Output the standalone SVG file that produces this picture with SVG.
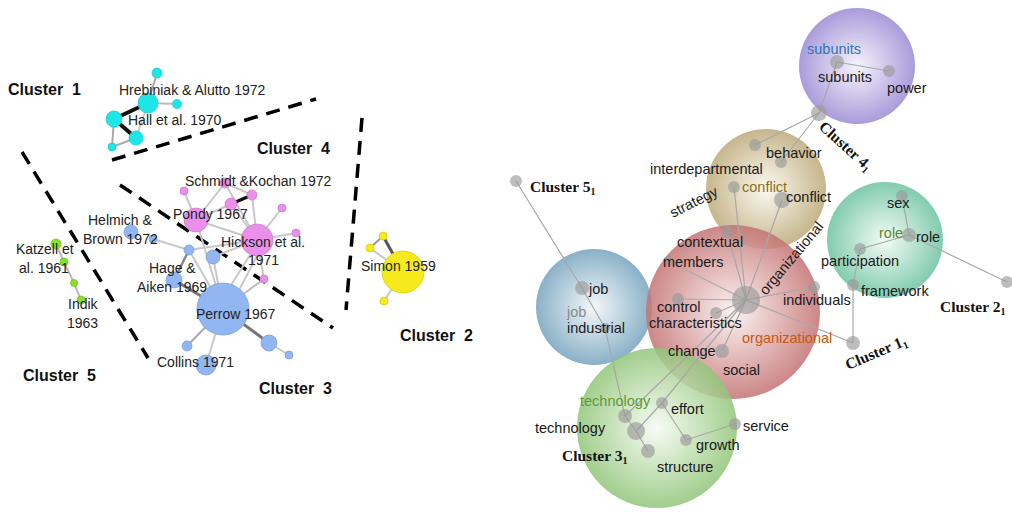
<svg xmlns="http://www.w3.org/2000/svg" width="1012" height="512" viewBox="0 0 1012 512">
<style>
.lt{font-family:"Liberation Sans",Arial,sans-serif;font-size:14px;fill:#222}
.rt{font-family:"Liberation Sans",Arial,sans-serif;font-size:14.5px;fill:#1a1a1a}
.cl{font-family:"Liberation Sans",Arial,sans-serif;font-size:16px;font-weight:bold;fill:#111;white-space:pre}
.cs{font-family:"Liberation Serif","Times New Roman",serif;font-size:15.5px;font-weight:bold;fill:#111}
.dash{stroke:#000;stroke-width:3.5;stroke-dasharray:14 9;fill:none}
.e1{stroke:#c8c8c8;stroke-width:2;fill:none}
.e2{stroke:#777;stroke-width:3;fill:none}
.e3{stroke:#111;stroke-width:4;fill:none}
.re{stroke:#a8a8a8;stroke-width:1.2;fill:none}
.cy{fill:#1fe6e6;stroke:#1ccccc;stroke-width:0.8}
.pk{fill:#ea90ea;stroke:#cf78cf;stroke-width:0.8}
.bl{fill:#92b6f2;stroke:#7c9fd8;stroke-width:0.8}
.gr{fill:#86e22a;stroke:#6cc41c;stroke-width:0.8}
.yl{fill:#f6ea1c;stroke:#d8cc10;stroke-width:0.8}
.gn{fill:#9a9a9a;fill-opacity:0.65}
</style>
<defs>
<radialGradient id="gPur"><stop offset="0" stop-color="#f4f2fb"/><stop offset="1" stop-color="#9a8ad4"/></radialGradient>
<radialGradient id="gTan"><stop offset="0" stop-color="#fbf8ef"/><stop offset="1" stop-color="#bba978"/></radialGradient>
<radialGradient id="gRole"><stop offset="0" stop-color="#f2faf6"/><stop offset="1" stop-color="#6cc3a0"/></radialGradient>
<radialGradient id="gRed"><stop offset="0" stop-color="#fbf0f0"/><stop offset="1" stop-color="#c47272"/></radialGradient>
<radialGradient id="gBlue"><stop offset="0" stop-color="#f1f6f9"/><stop offset="1" stop-color="#75a3bd"/></radialGradient>
<radialGradient id="gGrn"><stop offset="0" stop-color="#f6fbf2"/><stop offset="1" stop-color="#90c578"/></radialGradient>
</defs>
<rect width="1012" height="512" fill="#fff"/>

<g id="separators">
<line class="dash" x1="112" y1="160" x2="316" y2="99"/>
<line class="dash" x1="22" y1="152" x2="148" y2="358"/>
<line class="dash" x1="120" y1="185" x2="333" y2="328"/>
<line class="dash" x1="362" y1="118" x2="346" y2="310"/>
</g>

<g id="left-connectors">
<line class="e1" x1="148" y1="103" x2="157" y2="73" style="stroke:#aaa"/>
<line class="e1" x1="148" y1="103" x2="177" y2="104" style="stroke:#bbb"/>
<line class="e1" x1="148" y1="103" x2="136" y2="138"/>
<line class="e3" x1="148" y1="103" x2="114" y2="119"/>
<line class="e3" x1="114" y1="119" x2="136" y2="138"/>
<line class="e1" x1="114" y1="119" x2="112" y2="147" style="stroke:#aaa"/>
<line class="e1" x1="112" y1="147" x2="136" y2="138" style="stroke:#aaa"/>

<line class="e2" x1="223" y1="309" x2="174" y2="280"/>
<line class="e2" x1="223" y1="309" x2="269" y2="343"/>
<line class="e1" x1="269" y1="343" x2="289" y2="355"/>
<line class="e1" x1="223" y1="309" x2="187" y2="346" style="stroke:#aaa"/>
<line class="e1" x1="223" y1="309" x2="206" y2="365"/>
<line class="e1" x1="223" y1="309" x2="213" y2="257"/>
<line class="e1" x1="228" y1="290" x2="250" y2="255"/>
<line class="e1" x1="238" y1="292" x2="257" y2="256"/>
<line class="e1" x1="223" y1="309" x2="264" y2="279" style="stroke:#bbb"/>
<line class="e1" x1="223" y1="309" x2="196" y2="220"/>
<line class="e1" x1="223" y1="309" x2="189" y2="250"/>
<line class="e1" x1="174" y1="280" x2="189" y2="250" style="stroke:#888;stroke-width:2.5"/>
<line class="e1" x1="153" y1="239" x2="189" y2="250"/>
<line class="e1" x1="189" y1="250" x2="257" y2="240"/>
<line class="e1" x1="196" y1="220" x2="184" y2="191"/>
<line class="e1" x1="196" y1="220" x2="231" y2="204"/>
<line class="e1" x1="196" y1="220" x2="225" y2="183"/>
<line class="e1" x1="196" y1="220" x2="257" y2="240"/>
<line class="e1" x1="225" y1="183" x2="252" y2="195"/>
<line class="e1" x1="225" y1="183" x2="257" y2="240"/>
<line class="e1" x1="252" y1="195" x2="257" y2="240"/>
<line class="e1" x1="231" y1="204" x2="257" y2="240"/>
<line class="e3" x1="231" y1="204" x2="252" y2="195" style="stroke-width:3.5"/>
<line class="e1" x1="257" y1="240" x2="282" y2="208"/>
<line class="e1" x1="257" y1="240" x2="296" y2="233"/>
<line class="e1" x1="257" y1="240" x2="264" y2="279"/>
<line class="e1" x1="257" y1="240" x2="213" y2="257"/>

<line class="e1" x1="56" y1="244" x2="64" y2="262" style="stroke:#bbb"/>
<line class="e1" x1="64" y1="262" x2="74" y2="283" style="stroke:#bbb"/>
<line class="e1" x1="74" y1="283" x2="81" y2="300" style="stroke:#bbb"/>

<line class="e2" x1="403" y1="272" x2="383" y2="236" style="stroke:#555"/>
<line class="e1" x1="383" y1="236" x2="370" y2="248" style="stroke:#999"/>
<line class="e1" x1="370" y1="248" x2="403" y2="272"/>
<line class="e1" x1="403" y1="272" x2="384" y2="301"/>
</g>

<g id="cluster1-nodes">
<circle class="cy" cx="157" cy="73" r="5"/>
<circle class="cy" cx="177" cy="104" r="4.5"/>
<circle class="cy" cx="148" cy="103" r="10"/>
<circle class="cy" cx="114" cy="119" r="8"/>
<circle class="cy" cx="136" cy="138" r="7"/>
<circle class="cy" cx="112" cy="147" r="4"/>
</g>
<g id="cluster4-nodes">
<circle class="pk" cx="225" cy="183" r="5"/>
<circle class="pk" cx="184" cy="191" r="4"/>
<circle class="pk" cx="252" cy="195" r="5"/>
<circle class="pk" cx="231" cy="204" r="6"/>
<circle class="pk" cx="196" cy="220" r="12"/>
<circle class="pk" cx="282" cy="208" r="4"/>
<circle class="pk" cx="257" cy="240" r="16"/>
<circle class="pk" cx="296" cy="233" r="4"/>
<circle class="pk" cx="264" cy="279" r="4"/>
</g>
<g id="cluster3-nodes">
<circle class="bl" cx="131" cy="232" r="7"/>
<circle class="bl" cx="153" cy="239" r="4"/>
<circle class="bl" cx="189" cy="250" r="5"/>
<circle class="bl" cx="213" cy="257" r="7"/>
<circle class="bl" cx="174" cy="280" r="8"/>
<circle class="bl" cx="223" cy="309" r="26"/>
<circle class="bl" cx="269" cy="343" r="8"/>
<circle class="bl" cx="289" cy="355" r="4"/>
<circle class="bl" cx="187" cy="346" r="5"/>
<circle class="bl" cx="206" cy="365" r="10"/>
</g>
<g id="cluster5-nodes">
<circle class="gr" cx="56" cy="244" r="5"/>
<circle class="gr" cx="64" cy="262" r="4"/>
<circle class="gr" cx="74" cy="283" r="3.5"/>
<circle class="gr" cx="81" cy="300" r="4"/>
</g>
<g id="cluster2-nodes">
<circle class="yl" cx="383" cy="236" r="4"/>
<circle class="yl" cx="370" cy="248" r="4"/>
<circle class="yl" cx="384" cy="301" r="4"/>
<circle class="yl" cx="403" cy="272" r="21"/>
</g>

<g id="left-labels">
<text class="cl" x="8" y="95">Cluster  1</text>
<text class="cl" x="257" y="154">Cluster  4</text>
<text class="cl" x="23" y="381">Cluster  5</text>
<text class="cl" x="259" y="394">Cluster  3</text>
<text class="cl" x="400" y="341">Cluster  2</text>
<text class="lt" x="119" y="95">Hrebiniak &amp; Alutto 1972</text>
<text class="lt" x="128" y="125">Hall et al. 1970</text>
<text class="lt" x="185" y="186">Schmidt &amp;Kochan 1972</text>
<text class="lt" x="173" y="219">Pondy 1967</text>
<text class="lt" x="88" y="225">Helmich &amp;</text>
<text class="lt" x="83" y="244">Brown 1972</text>
<text class="lt" x="221" y="247">Hickson et al.</text>
<text class="lt" x="248" y="265">1971</text>
<text class="lt" x="149" y="273">Hage &amp;</text>
<text class="lt" x="137" y="292">Aiken 1969</text>
<text class="lt" x="196" y="319">Perrow 1967</text>
<text class="lt" x="157" y="367">Collins 1971</text>
<text class="lt" x="16" y="254">Katzell et</text>
<text class="lt" x="19" y="273">al. 1961</text>
<text class="lt" x="68" y="309">Indik</text>
<text class="lt" x="67" y="328">1963</text>
<text class="lt" x="361" y="271">Simon 1959</text>
</g>

<g id="cluster-areas" fill-opacity="0.85">
<circle id="area-conflict" cx="766" cy="189" r="60" fill="url(#gTan)"/>
<circle id="area-job" cx="594" cy="307" r="58" fill="url(#gBlue)"/>
<circle id="area-organizational" cx="733" cy="312" r="87" fill="url(#gRed)"/>
<circle id="area-technology" cx="657" cy="428" r="80" fill="url(#gGrn)"/>
<circle id="area-role" cx="885" cy="240" r="58" fill="url(#gRole)"/>
<circle id="area-subunits" cx="857" cy="66" r="58" fill="url(#gPur)"/>
</g>

<g id="right-connectors">
<line class="re" x1="516" y1="181" x2="582" y2="288"/>
<line class="re" x1="582" y1="288" x2="605" y2="328"/>
<line class="re" x1="605" y1="328" x2="625" y2="416"/>
<line class="re" x1="625" y1="416" x2="636" y2="431"/>
<line class="re" x1="636" y1="431" x2="648" y2="451"/>
<line class="re" x1="636" y1="431" x2="662" y2="403"/>
<line class="re" x1="662" y1="403" x2="686" y2="440"/>
<line class="re" x1="686" y1="440" x2="735" y2="424"/>
<line class="re" x1="746" y1="300" x2="662" y2="403"/>
<line class="re" x1="746" y1="300" x2="625" y2="416"/>
<line class="re" x1="746" y1="300" x2="722" y2="351"/>
<line class="re" x1="746" y1="300" x2="716" y2="313"/>
<line class="re" x1="746" y1="300" x2="678" y2="299"/>
<line class="re" x1="746" y1="300" x2="668" y2="261"/>
<line class="re" x1="746" y1="300" x2="727" y2="232"/>
<line class="re" x1="746" y1="300" x2="734" y2="187"/>
<line class="re" x1="746" y1="300" x2="782" y2="200"/>
<line class="re" x1="746" y1="300" x2="814" y2="287"/>
<line class="re" x1="746" y1="300" x2="853" y2="343"/>
<line class="re" x1="853" y1="343" x2="853" y2="285"/>
<line class="re" x1="853" y1="285" x2="860" y2="249"/>
<line class="re" x1="860" y1="249" x2="909" y2="235"/>
<line class="re" x1="909" y1="235" x2="902" y2="196"/>
<line class="re" x1="909" y1="235" x2="1007" y2="282"/>
<line class="re" x1="819" y1="113" x2="755" y2="145"/>
<line class="re" x1="819" y1="113" x2="781" y2="162"/>
<line class="re" x1="819" y1="113" x2="837" y2="62"/>
<line class="re" x1="837" y1="62" x2="889" y2="71"/>
</g>

<g id="term-nodes">
<circle class="gn" cx="516" cy="181" r="6"/>
<circle class="gn" cx="582" cy="288" r="7"/>
<circle class="gn" cx="605" cy="328" r="5"/>
<circle class="gn" cx="625" cy="416" r="7"/>
<circle class="gn" cx="636" cy="431" r="9"/>
<circle class="gn" cx="648" cy="451" r="7"/>
<circle class="gn" cx="662" cy="403" r="6"/>
<circle class="gn" cx="686" cy="440" r="6"/>
<circle class="gn" cx="735" cy="424" r="6"/>
<circle class="gn" cx="746" cy="300" r="14"/>
<circle class="gn" cx="722" cy="351" r="7"/>
<circle class="gn" cx="716" cy="313" r="6"/>
<circle class="gn" cx="678" cy="299" r="6"/>
<circle class="gn" cx="668" cy="261" r="5"/>
<circle class="gn" cx="727" cy="232" r="6"/>
<circle class="gn" cx="734" cy="187" r="6"/>
<circle class="gn" cx="782" cy="200" r="8"/>
<circle class="gn" cx="781" cy="162" r="6"/>
<circle class="gn" cx="755" cy="145" r="6"/>
<circle class="gn" cx="814" cy="287" r="6"/>
<circle class="gn" cx="853" cy="343" r="7"/>
<circle class="gn" cx="853" cy="285" r="6"/>
<circle class="gn" cx="860" cy="249" r="6"/>
<circle class="gn" cx="909" cy="235" r="7"/>
<circle class="gn" cx="902" cy="196" r="6"/>
<circle class="gn" cx="1007" cy="282" r="6"/>
<circle class="gn" cx="819" cy="113" r="8"/>
<circle class="gn" cx="837" cy="62" r="7"/>
<circle class="gn" cx="889" cy="71" r="6"/>
</g>

<g id="right-labels">
<text class="rt" x="807" y="54" style="fill:#2e75b6">subunits</text>
<text class="rt" x="818" y="82">subunits</text>
<text class="rt" x="887" y="93">power</text>
<text class="rt" x="766" y="158">behavior</text>
<text class="rt" x="650" y="174">interdepartmental</text>
<text class="rt" x="742" y="192" style="fill:#8c6e16">conflict</text>
<text class="rt" x="786" y="202">conflict</text>
<text class="rt" transform="translate(673,218) rotate(-27)">strategy</text>
<text class="rt" x="677" y="247">contextual</text>
<text class="rt" x="663" y="267">members</text>
<text class="rt" transform="translate(766,296) rotate(-50)">organizational</text>
<text class="rt" x="783" y="305">individuals</text>
<text class="rt" x="657" y="312">control</text>
<text class="rt" x="649" y="328">characteristics</text>
<text class="rt" x="742" y="343" style="fill:#c55a11">organizational</text>
<text class="rt" x="668" y="356">change</text>
<text class="rt" x="723" y="375">social</text>
<text class="rt" x="589" y="294">job</text>
<text class="rt" x="567" y="317" style="fill:#8a8a8a">job</text>
<text class="rt" x="567" y="333">industrial</text>
<text class="rt" x="887" y="208">sex</text>
<text class="rt" x="879" y="238" style="fill:#5e8a2e">role</text>
<text class="rt" x="916" y="242">role</text>
<text class="rt" x="821" y="266">participation</text>
<text class="rt" x="861" y="296">framework</text>
<text class="rt" x="580" y="406" style="fill:#5f9a3a">technology</text>
<text class="rt" x="671" y="414">effort</text>
<text class="rt" x="535" y="433">technology</text>
<text class="rt" x="743" y="431">service</text>
<text class="rt" x="696" y="450">growth</text>
<text class="rt" x="657" y="472">structure</text>
<text class="cs" x="530" y="192">Cluster 5<tspan font-size="10" dy="3">1</tspan></text>
<text class="cs" transform="translate(818,128) rotate(42)">Cluster 4<tspan font-size="10" dy="3">1</tspan></text>
<text class="cs" x="940" y="312">Cluster 2<tspan font-size="10" dy="3">1</tspan></text>
<text class="cs" transform="translate(848,370) rotate(-23)">Cluster 1<tspan font-size="10" dy="3">1</tspan></text>
<text class="cs" x="562" y="461">Cluster 3<tspan font-size="10" dy="3">1</tspan></text>
</g>
</svg>
